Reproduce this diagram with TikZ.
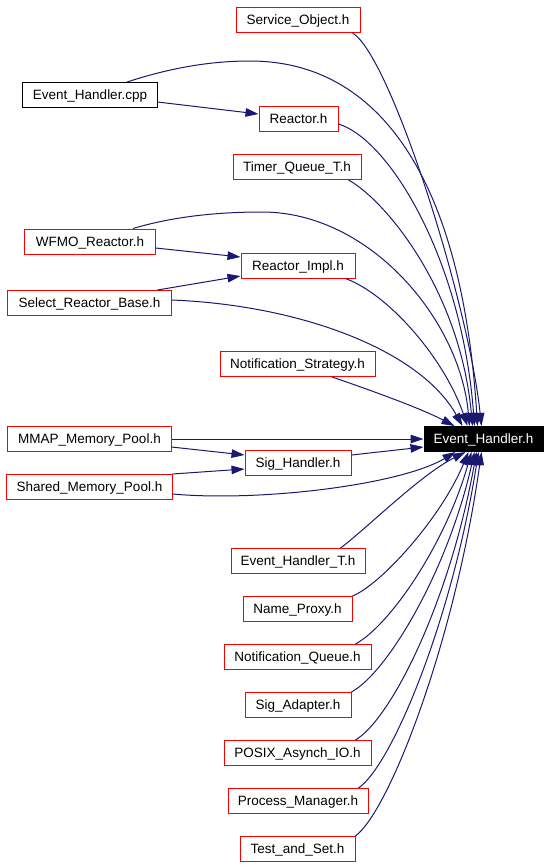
\documentclass[tikz,border=0pt]{standalone}
\usepackage{fontspec}
\setmainfont{Liberation Sans}
\usetikzlibrary{arrows.meta}
\definecolor{mnavy}{HTML}{191970}
\definecolor{mred}{HTML}{FF0000}
\tikzstyle{file}=[rectangle, draw=mred, line width=1bp, minimum height=25bp, inner sep=0pt, text height=11bp, text depth=1.5bp, font=\fontsize{13.5bp}{15bp}\selectfont]
\tikzstyle{docfile}=[file, draw=black]
\tikzstyle{target}=[file, draw=black, fill=black, text=white]
\tikzstyle{l1}=[line width=1bp, color=mnavy]
\tikzstyle{dep}=[l1, -{Triangle[length=13bp,width=8.5bp]}]

\begin{document}
\begin{tikzpicture}[x=1bp, y=-1bp]
    \useasboundingbox (0,0) rectangle (549,867);

    \node (so) [file, minimum width=124bp] at (298,20) {Service\_Object.h};
    \node (ehcpp) [docfile, minimum width=134bp] at (90,95) {Event\_Handler.cpp};
    \node (reac) [file, minimum width=79bp] at (298.5,119) {Reactor.h};
    \node (tq) [file, minimum width=128bp] at (297,167) {Timer\_Queue\_T.h};
    \node (wfmo) [file, minimum width=130bp] at (90,241.5) {WFMO\_Reactor.h};
    \node (rimpl) [file, minimum width=114bp] at (298,265.5) {Reactor\_Impl.h};
    \node (srb) [file, minimum width=163bp] at (89.5,303) {Select\_Reactor\_Base.h};
    \node (ns) [file, minimum width=155bp] at (297.5,364) {Notification\_Strategy.h};
    \node (mmap) [file, minimum width=163bp] at (89.5,439) {MMAP\_Memory\_Pool.h};
    \node (eh) [target, minimum width=119bp] at (483.5,439) {Event\_Handler.h};
    \node (sigh) [file, minimum width=106bp] at (298,463) {Sig\_Handler.h};
    \node (smp) [file, minimum width=165bp] at (89.5,487) {Shared\_Memory\_Pool.h};
    \node (eht) [file, minimum width=134bp] at (298,561) {Event\_Handler\_T.h};
    \node (np) [file, minimum width=109bp] at (297.5,609) {Name\_Proxy.h};
    \node (nq) [file, minimum width=147bp] at (297.5,657) {Notification\_Queue.h};
    \node (sa) [file, minimum width=106bp] at (298,705) {Sig\_Adapter.h};
    \node (posix) [file, minimum width=147bp] at (297.5,753) {POSIX\_Asynch\_IO.h};
    \node (pm) [file, minimum width=140bp] at (298,801) {Process\_Manager.h};
    \node (tas) [file, minimum width=115bp] at (297.5,849) {Test\_and\_Set.h};

    % includes of the upper half
    \draw[dep] ([xshift=-8bp]so.south east) .. controls (390,55) and (468,300) .. ([xshift=58bp]eh.north west);
    \draw[dep] ([xshift=37bp]ehcpp.north) .. controls (170,68) and (210,61) .. (250,61)
        .. controls (380,61) and (462,180) .. ([xshift=54bp]eh.north west);
    \draw[dep] ([yshift=-7bp]ehcpp.east) -- ([yshift=5bp]reac.west);
    \draw[dep] ([yshift=-5bp]reac.east) .. controls (390,140) and (462,260) .. ([xshift=51bp]eh.north west);
    \draw[dep] ([xshift=-13bp]tq.south east) .. controls (385,200) and (460,290) .. ([xshift=49bp]eh.north west);
    \draw[dep] ([xshift=43bp]wfmo.north) .. controls (175,216) and (220,212) .. (262,212)
        .. controls (370,212) and (460,320) .. ([xshift=46bp]eh.north west);
    \draw[dep] ([yshift=-6.5bp]wfmo.east) -- ([yshift=8.5bp]rimpl.west);
    \draw[dep] ([xshift=-14bp]srb.north east) -- ([yshift=-10.5bp]rimpl.west);
    \draw[dep] ([xshift=-10bp]rimpl.south east) .. controls (390,295) and (445,360) .. ([xshift=44bp]eh.north west);
    \draw[dep] ([yshift=3bp]srb.east) .. controls (300,305) and (420,350) .. ([xshift=39bp]eh.north west);
    \draw[dep] ([xshift=34.5bp]ns.south) .. controls (370,390) and (420,408) .. ([xshift=31bp]eh.north west);

    % middle row
    \draw[dep] (mmap.east) -- (eh.west);
    \draw[dep] ([yshift=-8bp]mmap.east) -- ([yshift=8bp]sigh.west);
    \draw[dep] (smp.north east) -- ([yshift=-6bp]sigh.west);
    \draw[dep] ([yshift=8bp]sigh.east) -- ([yshift=-8bp]eh.west);
    \draw[dep] ([yshift=-7bp]smp.east) .. controls (260,502) and (400,485) .. ([xshift=32bp]eh.south west);

    % includes of the lower half
    \draw[dep] ([xshift=-25bp]eht.north east) .. controls (365,530) and (420,475) .. ([xshift=42bp]eh.south west);
    \draw[dep] (np.north east) .. controls (380,585) and (440,520) .. ([xshift=45bp]eh.south west);
    \draw[dep] ([xshift=-16bp]nq.north east) .. controls (390,625) and (445,545) .. ([xshift=48bp]eh.south west);
    \draw[dep] (sa.north east) .. controls (388,672) and (448,570) .. ([xshift=51bp]eh.south west);
    \draw[dep] ([xshift=-16bp]posix.north east) .. controls (392,718) and (450,600) .. ([xshift=53bp]eh.south west);
    \draw[dep] ([xshift=-10bp]pm.north east) .. controls (392,765) and (452,620) .. ([xshift=55bp]eh.south west);
    \draw[dep] (tas.north east) .. controls (390,810) and (455,640) .. ([xshift=58bp]eh.south west);
\end{tikzpicture}
\end{document}
